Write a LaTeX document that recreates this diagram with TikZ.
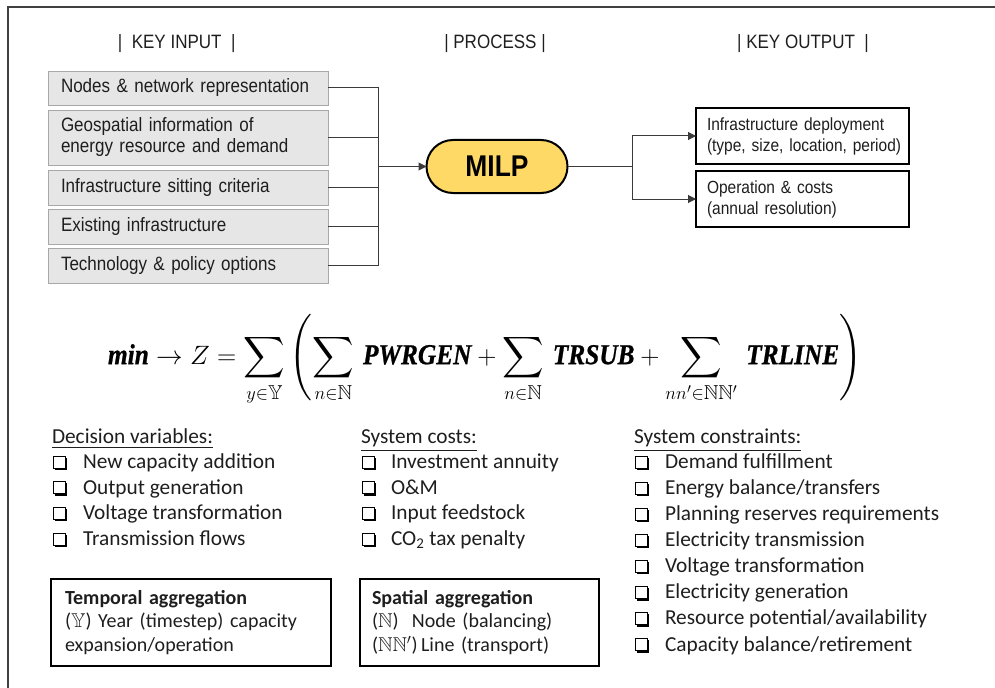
\documentclass[tikz,border=0pt]{standalone}
\usepackage{amsmath,amssymb}
\usepackage{fontspec}
\setmainfont{Carlito}
\newfontfamily\topfont[FakeStretch=0.88]{Liberation Sans}
\newfontfamily\eqfont[FakeStretch=0.88,FakeBold=0.8]{Liberation Serif}
\newcommand{\eqw}[1]{\text{\eqfont\bfseries\itshape #1}}
\usetikzlibrary{arrows.meta,shapes.misc}
\definecolor{framegray}{HTML}{404040}
\definecolor{boxgray}{HTML}{A8A8A8}
\definecolor{boxfill}{HTML}{E6E6E6}
\definecolor{textdark}{HTML}{1E1E1E}
\definecolor{linegray}{HTML}{3A3A3A}
\definecolor{milpyellow}{HTML}{FFD966}
\begin{document}
\begin{tikzpicture}[x=0.75pt,y=-0.75pt,
  every node/.style={inner sep=0pt, outer sep=0pt},
  frameline/.style={draw=framegray, line width=1.5pt},
  hdr/.style={font=\topfont\fontsize{14.5}{17}\selectfont, text=textdark},
  inbox/.style={draw=boxgray, fill=boxfill, line width=0.6pt, text width=190.5pt,
    inner xsep=9.75pt, inner ysep=0pt, align=left, text=textdark,
    font=\topfont\fontsize{14.5}{15.75}\selectfont, minimum height=#1},
  outbox/.style={draw=black, fill=white, line width=1.1pt, text width=143.25pt,
    inner xsep=8.25pt, inner ysep=0pt, align=left, text=textdark,
    font=\topfont\fontsize{13.2}{15.75}\selectfont, minimum height=42pt},
  milpbox/.style={rounded rectangle, draw=black, line width=1.5pt, fill=milpyellow,
    minimum width=105.75pt, minimum height=39.75pt,
    font=\topfont\bfseries\fontsize{22.5}{24}\selectfont},
  conn/.style={draw=linegray, line width=0.75pt},
  arr/.style={conn, -{Triangle[length=6pt,width=6pt]}},
  listhead/.style={anchor=west, font=\fontsize{16}{19}\selectfont, text=textdark,
    text height=0.9em, text depth=0.25em},
  listitem/.style={anchor=west, font=\fontsize{16}{19}\selectfont, text=textdark,
    text height=0.9em, text depth=0.25em},
  aggbox/.style={draw=black, line width=1.1pt, align=left, text=textdark,
    font=\fontsize{15}{17.6}\selectfont, minimum height=65.25pt},
  qbox/.pic={\draw[line width=0.6pt] (0,-6) rectangle (12,6);
             \draw[line width=1.6pt] (1.5,7) -- (13,7) -- (13,-4.5);}
]
\useasboundingbox (0,0) rectangle (995,688);
% frame
\draw[frameline] (8,688) -- (8,7.5) -- (995,7.5);

% headers
\node[hdr] (hin)  at (176.7,43.5) {|\ \ KEY INPUT\ \ |};
\node[hdr] (hpr)  at (495,43.5) {|\ PROCESS\ |};
\node[hdr] (hout) at (803,43.5) {|\ KEY OUTPUT\ \ |};

% inputs
\node[inbox=25.5pt]  (in1) at (188,88)    {Nodes \& network representation};
\node[inbox=41.25pt] (in2) at (188,137.5) {Geospatial information of\\energy resource and demand};
\node[inbox=26.25pt] (in3) at (188,187.5) {Infrastructure sitting criteria};
\node[inbox=26.25pt] (in4) at (188,226.5) {Existing infrastructure};
\node[inbox=26.25pt] (in5) at (188,265.5) {Technology \& policy options};

% process
\node[milpbox] (milp) at (497,166.5) {MILP};
\coordinate (jl) at (378,166.5);
\coordinate (jr) at (632,166.5);

% outputs
\node[outbox] (out1) at (802.5,136) {Infrastructure deployment\\\mbox{(type, size, location, period)}};
\node[outbox] (out2) at (802.5,199) {Operation \& costs\\(annual resolution)};

% connectors
\foreach \n in {in1,in2,in3,in4,in5} {\draw[conn] (\n.east) -| (jl);}
\draw[arr] (jl) -- (milp.west);
\draw[conn] (milp.east) -- (jr);
\draw[arr] (jr) |- (out1.west);
\draw[arr] (jr) |- (out2.west);

% equation
\node[font=\fontsize{22.5}{27}\selectfont] (eq) at (485,360) {\resizebox{565.5pt}{!}{$\displaystyle
  \eqw{min} \rightarrow Z = \sum_{y\in\mathbb{Y}} \left( \sum_{n\in\mathbb{N}} \, \eqw{PWRGEN}
  + \sum_{n\in\mathbb{N}} \, \eqw{TRSUB} + \sum_{nn'\in\mathbb{N}\mathbb{N}'} \, \eqw{TRLINE} \right)$}};

% lists
\node[listhead] (dvh) at (52,439.5) {\underline{Decision variables:}};
\foreach \t [count=\i] in {New capacity addition, Output generation, Voltage transformation, Transmission flows} {
  \pic at (53,{462+(\i-1)*25.7}) {qbox};
  \node[listitem] (dv\i) at (83,{464+(\i-1)*25.7}) {\t};
}
\node[listhead] (sch) at (361,439.5) {\underline{System costs:}};
\foreach \t [count=\i] in {Investment annuity, O\&M, Input feedstock, CO\textsubscript{2} tax penalty} {
  \pic at (362,{462+(\i-1)*25.7}) {qbox};
  \node[listitem] (sc\i) at (391,{464+(\i-1)*25.7}) {\t};
}
\node[listhead] (sth) at (634,439.5) {\underline{System constraints:}};
\foreach \t [count=\i] in {Demand fulfillment, Energy balance/transfers, Planning reserves requirements, Electricity transmission, Voltage transformation, Electricity generation, Resource potential/availability, Capacity balance/retirement} {
  \pic at (635,{462+(\i-1)*26.1}) {qbox};
  \node[listitem] (st\i) at (665,{464+(\i-1)*26.1}) {\t};
}

% aggregation boxes
\node[aggbox, text width=189pt, inner xsep=10.5pt] (tagg) at (191,622.5)
  {\textbf{Temporal aggregation}\\(\(\mathbb{Y}\)) Year (timestep) capacity\\expansion/operation};
\node[aggbox, text width=161.25pt, inner xsep=9pt] (sagg) at (479.5,622.5)
  {\textbf{Spatial aggregation}\\(\(\mathbb{N}\))\ \ Node (balancing)\\(\(\mathbb{N}\mathbb{N}'\))\,Line (transport)};
\end{tikzpicture}
\end{document}
